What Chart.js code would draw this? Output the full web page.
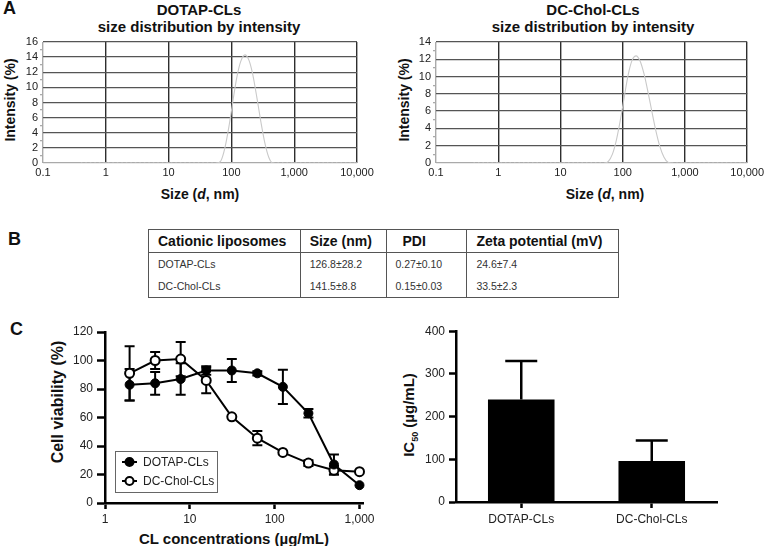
<!DOCTYPE html>
<html>
<head>
<meta charset="utf-8">
<script src="https://cdn.jsdelivr.net/npm/chart.js@4.4.1/dist/chart.umd.min.js"></script>
<style>
  body { margin: 0; background: #fff; }
  #fig { position: relative; width: 767px; height: 546px; overflow: hidden; background: #fff;
         font-family: "Liberation Sans", Arial, sans-serif; color: #111; }
  .wrap { position: absolute; }
  .txt { position: absolute; font-weight: bold; white-space: nowrap; }
  .panel { font-size: 18px; }
  .ttl { font-size: 15px; line-height: 17px; text-align: center; }
  .axt { font-size: 14px; transform: translate(-50%, -50%); }
  .axv { font-size: 14px; transform: translate(-50%, -50%) rotate(-90deg); }
  table { position: absolute; left: 148px; top: 229px; width: 471px; border-collapse: collapse;
          border: 1.5px solid #555; font-family: "Liberation Sans", Arial, sans-serif; }
  td, th { border-left: 1.5px solid #555; border-right: 1.5px solid #555; padding: 0 0 0 9px; text-align: left; }
  th { font-size: 14px; height: 22px; border-bottom: 1.5px solid #555; color: #111; }
  td { font-size: 10.5px; height: 22px; color: #333; }
</style>
</head>
<body>
<div id="fig">
  <div class="txt panel" style="left:3px;top:-2px;">A</div>
  <div class="txt ttl" style="left:49px;top:1px;width:300px;">DOTAP-CLs<br>size distribution by intensity</div>
  <div class="txt ttl" style="left:443px;top:1px;width:300px;">DC-Chol-CLs<br>size distribution by intensity</div>
  <div class="txt axv" style="left:10px;top:100px;">Intensity (%)</div>
  <div class="txt axv" style="left:404px;top:100px;">Intensity (%)</div>
  <div class="txt axt" style="left:200px;top:194px;">Size (<i>d</i>, nm)</div>
  <div class="txt axt" style="left:605px;top:194px;">Size (<i>d</i>, nm)</div>

  <div class="wrap" style="left:0;top:0;width:380px;height:200px;"><canvas id="sizeDotap"></canvas></div>
  <div class="wrap" style="left:380px;top:0;width:387px;height:200px;"><canvas id="sizeDcChol"></canvas></div>

  <div class="txt panel" style="left:8px;top:229px;">B</div>
  <table id="props"></table>

  <div class="txt panel" style="left:10px;top:319px;">C</div>
  <div class="txt axv" style="left:58px;top:402px;font-size:16px;">Cell viability (%)</div>
  <div class="txt axt" style="left:234px;top:538px;font-size:15px;">CL concentrations (µg/mL)</div>
  <div class="txt axv" style="left:410px;top:415px;font-size:15px;">IC<sub style="font-size:9px;">50</sub> (µg/mL)</div>

  <div class="wrap" style="left:40px;top:320px;width:340px;height:226px;"><canvas id="viability"></canvas></div>
  <div class="wrap" style="left:390px;top:320px;width:377px;height:226px;"><canvas id="ic50"></canvas></div>
</div>

<script>
// ---- panel A: size distribution (DLS) ----
const sizeBins = [0.4, 1, 10, 40, 50.7, 58.8, 68.1, 78.8, 91.3, 105.7, 122.4, 141.8, 164.2, 190.1, 220.2, 255.0, 295.3, 342.0, 396.1, 458.7, 531.2, 615.1, 712.4, 1000, 10000];
const dotapIntensity = [0, 0, 0, 0, 0, 0, 0.3, 2.0, 4.8, 8.2, 11.4, 13.5, 14.3, 13.6, 11.6, 8.6, 5.4, 2.6, 0.7, 0, 0, 0, 0, 0, 0];
const dcCholIntensity = [0, 0, 0, 0, 0, 0.2, 1.0, 2.6, 4.9, 7.6, 10.2, 11.9, 12.4, 11.8, 10.3, 8.2, 5.9, 3.7, 1.9, 0.7, 0.1, 0, 0, 0, 0];
const sizeTicks = [0.1, 1, 10, 100, 1000, 10000];
const sizeTickLabels = ['0.1', '1', '10', '100', '1,000', '10,000'];

// ---- panel B: table ----
const tableHeader = ['Cationic liposomes', 'Size (nm)', 'PDI', 'Zeta potential (mV)'];
const tableNames = ['DOTAP-CLs', 'DC-Chol-CLs'];
const tableSize = ['126.8±28.2', '141.5±8.8'];
const tablePdi = ['0.27±0.10', '0.15±0.03'];
const tableZeta = ['24.6±7.4', '33.5±2.3'];

// ---- panel C: viability + IC50 ----
const concentrations = [1.95, 3.9, 7.8, 15.6, 31.25, 62.5, 125, 250, 500, 1000];
const dotapViability = [83, 84, 87, 93, 93, 91, 81.5, 63, 27, 12.5];
const dotapViabilitySd = [11, 8, 11, 3, 8, 1.5, 12, 3, 7, 0];
const dcCholViability = [91, 100, 101, 86, 60.5, 45.5, 35.5, 28, 23, 22];
const dcCholViabilitySd = [19, 6, 12, 9, 0, 5, 0, 2, 3, 0];
const concTicks = [1, 10, 100, 1000];
const concTickLabels = ['1', '10', '100', '1,000'];

const formulations = ['DOTAP-CLs', 'DC-Chol-CLs'];
const ic50 = [240, 96];
const ic50Sd = [90, 48];

Chart.defaults.font.family = '"Liberation Sans", Arial, sans-serif';
Chart.defaults.color = '#222';
Chart.defaults.animation = false;

// table
const tbl = document.getElementById('props');
let html = '<colgroup><col style="width:152px"><col style="width:86px"><col style="width:81px"><col style="width:152px"></colgroup>';
html += '<tr>' + tableHeader.map((h, i) => `<th${i === 2 ? ' style="padding-left:16px"' : ''}>${h}</th>`).join('') + '</tr>';
tableNames.forEach((n, i) => {
	html += `<tr><td>${n}</td><td>${tableSize[i]}</td><td>${tablePdi[i]}</td><td>${tableZeta[i]}</td></tr>`;
});
tbl.innerHTML = html;

// error bars drawn under the markers
const errorBarPlugin = {
	id: 'errorBars',
	beforeDatasetsDraw(chart) {
		const ctx = chart.ctx;
		chart.data.datasets.forEach((ds, i) => {
			if (!ds.errors) return;
			const meta = chart.getDatasetMeta(i);
			const yScale = chart.scales[meta.yAxisID];
			ctx.save();
			ctx.strokeStyle = '#000';
			ctx.lineWidth = ds.errorLineWidth || 2;
			meta.data.forEach((el, j) => {
				const err = ds.errors[j];
				if (!err) return;
				const raw = ds.data[j];
				const v = typeof raw === 'object' ? raw.y : raw;
				const top = yScale.getPixelForValue(v + err);
				const bot = ds.upOnly ? el.y : yScale.getPixelForValue(v - err);
				const half = ds.capHalf || 5;
				ctx.beginPath();
				ctx.moveTo(el.x, top);
				ctx.lineTo(el.x, bot);
				ctx.moveTo(el.x - half, top);
				ctx.lineTo(el.x + half, top);
				if (!ds.upOnly) {
					ctx.moveTo(el.x - half, bot);
					ctx.lineTo(el.x + half, bot);
				}
				ctx.stroke();
			});
			ctx.restore();
		});
	},
};

// boxed legend inside the plot area
const boxLegendPlugin = {
	id: 'boxLegend',
	afterDraw(chart, args, opts) {
		if (!opts.show) return;
		const ctx = chart.ctx;
		const a = chart.chartArea;
		const x = a.left + opts.x;
		const y = a.top + opts.y;
		ctx.save();
		ctx.strokeStyle = '#666';
		ctx.lineWidth = 1;
		ctx.strokeRect(x + 0.5, y + 0.5, opts.w, opts.h);
		ctx.font = '12px "Liberation Sans", Arial, sans-serif';
		ctx.textBaseline = 'middle';
		chart.data.datasets.forEach((ds, i) => {
			const ry = y + 11 + i * 19;
			ctx.strokeStyle = '#000';
			ctx.lineWidth = 2;
			ctx.beginPath();
			ctx.moveTo(x + 7, ry);
			ctx.lineTo(x + 22, ry);
			ctx.stroke();
			ctx.beginPath();
			ctx.arc(x + 14.5, ry, 4, 0, Math.PI * 2);
			ctx.fillStyle = ds.pointBackgroundColor;
			ctx.fill();
			ctx.stroke();
			ctx.fillStyle = '#222';
			ctx.fillText(ds.label, x + 28, ry + 0.5);
		});
		ctx.restore();
	},
};

function sizeChart(id, values, yMax, yWidth, padRight) {
	return new Chart(document.getElementById(id), {
		type: 'line',
		data: {
			datasets: [
				{
					data: sizeBins.map((s, i) => ({ x: s, y: values[i] })),
					borderColor: '#c9c9c9',
					borderWidth: 1.1,
					pointRadius: 0,
					cubicInterpolationMode: 'monotone',
					segment: {
						borderDash: (c) => (c.p0.parsed.y === 0 && c.p1.parsed.y === 0 ? [1.5, 3] : undefined),
					},
				},
			],
		},
		options: {
			responsive: true,
			maintainAspectRatio: false,
			layout: { padding: { top: 42, right: padRight, left: 0, bottom: 0 } },
			plugins: { legend: { display: false }, tooltip: { enabled: false } },
			scales: {
				x: {
					type: 'logarithmic',
					min: 0.1,
					max: 10000,
					afterBuildTicks: (scale) => {
						scale.ticks = sizeTicks.map((v) => ({ value: v }));
					},
					afterFit: (scale) => {
						scale.height = 37;
					},
					ticks: {
						autoSkip: false,
						maxRotation: 0,
						padding: 3,
						font: { size: 11 },
						callback: (v) => sizeTickLabels[sizeTicks.indexOf(v)],
					},
					grid: {
						drawTicks: false,
						color: (c) => (c.index === 0 ? '#aaa' : '#2e2e2e'),
						lineWidth: 1.4,
					},
					border: { display: false },
				},
				y: {
					min: 0,
					max: yMax,
					afterFit: (scale) => {
						scale.width = yWidth;
					},
					ticks: {
						stepSize: 1,
						autoSkip: false,
						padding: 2,
						font: { size: 11 },
						callback: (v) => (v % 2 === 0 ? v : ''),
					},
					grid: {
						tickLength: 3,
						color: (c) => (c.tick.value % 2 ? 'rgba(0,0,0,0)' : c.tick.value === 0 ? '#aaa' : '#555'),
						tickColor: (c) => (c.tick.value % 2 ? '#aaa' : 'rgba(0,0,0,0)'),
						lineWidth: 1.3,
					},
					border: { display: false },
				},
			},
		},
	});
}

sizeChart('sizeDotap', dotapIntensity, 16, 43, 23);
sizeChart('sizeDcChol', dcCholIntensity, 14, 56, 17);

// viability curve
new Chart(document.getElementById('viability'), {
	type: 'line',
	data: {
		datasets: [
			{
				label: 'DOTAP-CLs',
				data: concentrations.map((c, i) => ({ x: c, y: dotapViability[i] })),
				errors: dotapViabilitySd,
				borderColor: '#000',
				borderWidth: 2,
				pointRadius: 4.5,
				pointBackgroundColor: '#000',
				pointBorderColor: '#000',
				pointBorderWidth: 1,
			},
			{
				label: 'DC-Chol-CLs',
				data: concentrations.map((c, i) => ({ x: c, y: dcCholViability[i] })),
				errors: dcCholViabilitySd,
				borderColor: '#000',
				borderWidth: 2,
				pointRadius: 4.5,
				pointBackgroundColor: '#fff',
				pointBorderColor: '#000',
				pointBorderWidth: 2,
			},
		],
	},
	options: {
		responsive: true,
		maintainAspectRatio: false,
		clip: false,
		layout: { padding: { top: 12, right: 17, left: 0, bottom: 0 } },
		plugins: {
			legend: { display: false },
			tooltip: { enabled: false },
			boxLegend: { show: true, x: 10, y: 119, w: 102, h: 41 },
		},
		scales: {
			x: {
				type: 'logarithmic',
				min: 1,
				max: 1100,
				afterBuildTicks: (scale) => {
					scale.ticks = concTicks.map((v) => ({ value: v }));
				},
				afterFit: (scale) => {
					scale.height = 43;
				},
				ticks: {
					autoSkip: false,
					maxRotation: 0,
					padding: 3,
					font: { size: 12 },
					callback: (v) => concTickLabels[concTicks.indexOf(v)],
				},
				grid: { drawOnChartArea: false, tickLength: 6, tickWidth: 2.5, tickColor: '#000' },
				border: { color: '#000', width: 2.5 },
			},
			y: {
				min: 0,
				max: 120,
				afterFit: (scale) => {
					scale.width = 65;
				},
				ticks: { stepSize: 20, padding: 4, font: { size: 12 } },
				grid: { drawOnChartArea: false, tickLength: 8, tickWidth: 2.5, tickColor: '#000' },
				border: { color: '#000', width: 2.5 },
			},
		},
	},
	plugins: [errorBarPlugin, boxLegendPlugin],
});

// IC50 bars
new Chart(document.getElementById('ic50'), {
	type: 'bar',
	data: {
		labels: formulations,
		datasets: [
			{
				data: ic50,
				errors: ic50Sd,
				upOnly: true,
				capHalf: 16,
				errorLineWidth: 2.5,
				backgroundColor: '#000',
				borderWidth: 0,
				barPercentage: 0.51,
				categoryPercentage: 1,
			},
		],
	},
	options: {
		responsive: true,
		maintainAspectRatio: false,
		layout: { padding: { top: 11, right: 50, left: 0, bottom: 0 } },
		plugins: { legend: { display: false }, tooltip: { enabled: false } },
		scales: {
			x: {
				afterFit: (scale) => {
					scale.height = 44;
				},
				ticks: { padding: 4, font: { size: 12 } },
				grid: { drawOnChartArea: false, offset: false, tickLength: 6, tickWidth: 2.5, tickColor: '#000' },
				border: { color: '#000', width: 2.5 },
			},
			y: {
				min: 0,
				max: 400,
				afterFit: (scale) => {
					scale.width = 66;
				},
				ticks: { stepSize: 100, padding: 4, font: { size: 12 } },
				grid: { drawOnChartArea: false, tickLength: 7, tickWidth: 2.5, tickColor: '#000' },
				border: { color: '#000', width: 2.5 },
			},
		},
	},
	plugins: [errorBarPlugin],
});
</script>
</body>
</html>
